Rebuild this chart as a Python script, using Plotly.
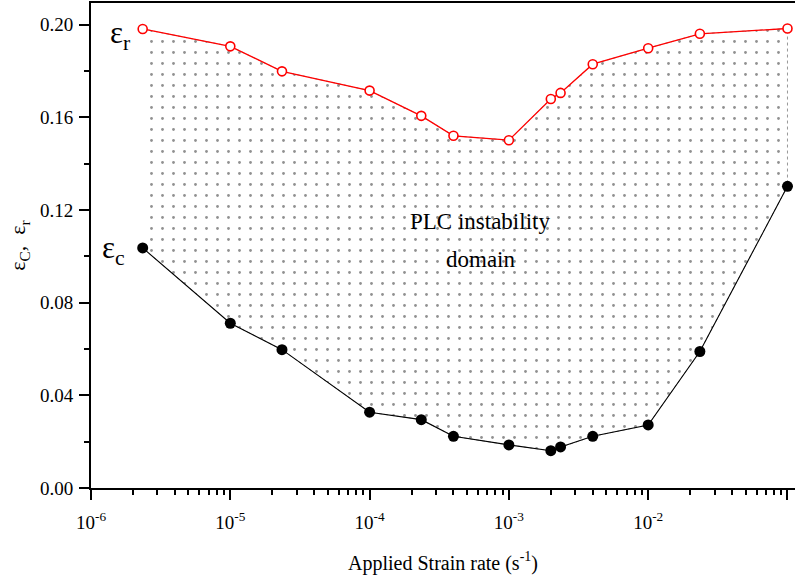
import plotly.graph_objects as go

# Data
strain_rate = [2.35e-6, 1e-5, 2.35e-5, 1e-4, 2.35e-4, 4e-4, 1e-3, 2e-3, 2.35e-3, 4e-3, 1e-2, 2.35e-2, 1e-1]
eps_r = [0.1981, 0.1906, 0.1798, 0.1715, 0.1606, 0.1520, 0.1501, 0.1679, 0.1705, 0.1829, 0.1898, 0.1960, 0.1983]
eps_c = [0.1036, 0.0711, 0.0597, 0.0327, 0.0295, 0.0223, 0.0186, 0.0161, 0.0177, 0.0223, 0.0272, 0.0589, 0.1302]

x_tick_vals = [1e-6, 1e-5, 1e-4, 1e-3, 1e-2, 1e-1]
x_tick_text = ["10<sup>-6</sup>", "10<sup>-5</sup>", "10<sup>-4</sup>",
               "10<sup>-3</sup>", "10<sup>-2</sup>", "10<sup>-1</sup>"]
x_minor_vals = [k * d for d in [1e-6, 1e-5, 1e-4, 1e-3, 1e-2] for k in range(2, 10)]

FONT = "Liberation Serif"

fig = go.Figure()

# PLC instability domain (dotted region between the two curves)
fig.add_trace(go.Scatter(
    x=strain_rate + strain_rate[::-1],
    y=eps_r + eps_c[::-1],
    fill="toself",
    mode="lines",
    line=dict(color="#999999", width=1, dash="dot"),
    fillcolor="rgba(255,255,255,0)",
    fillpattern=dict(shape=".", size=11, solidity=0.05, fgcolor="#222222", bgcolor="rgba(255,255,255,0)"),
    hoverinfo="skip",
    showlegend=False,
))

fig.add_trace(go.Scatter(
    x=strain_rate, y=eps_r, mode="lines+markers",
    line=dict(color="#ff0000", width=1.3),
    marker=dict(symbol="circle", size=9, color="white", line=dict(color="#ff0000", width=1.6)),
    showlegend=False, name="εr", cliponaxis=False,
))

fig.add_trace(go.Scatter(
    x=strain_rate, y=eps_c, mode="lines+markers",
    line=dict(color="black", width=1.1),
    marker=dict(symbol="circle", size=11, color="black"),
    showlegend=False, name="εc", cliponaxis=False,
))

annotations = [
    dict(x=-5.785, y=0.1955, xref="x", yref="y", text="ε<sub>r</sub>", showarrow=False,
         font=dict(family=FONT, size=31, color="black"), xanchor="center", yanchor="middle"),
    dict(x=-5.842, y=0.1025, xref="x", yref="y", text="ε<sub>c</sub>", showarrow=False,
         font=dict(family=FONT, size=31, color="black"), xanchor="center", yanchor="middle"),
    dict(x=-3.207, y=0.1148, xref="x", yref="y", text="PLC instability", showarrow=False,
         font=dict(family=FONT, size=23, color="black"), xanchor="center", yanchor="middle"),
    dict(x=-3.207, y=0.0984, xref="x", yref="y", text="domain", showarrow=False,
         font=dict(family=FONT, size=23, color="black"), xanchor="center", yanchor="middle"),
]

fig.update_layout(
    width=795, height=579,
    margin=dict(l=91, r=0, t=3, b=91),
    paper_bgcolor="white", plot_bgcolor="white",
    font=dict(family=FONT, size=19, color="black"),
    annotations=annotations,
    xaxis=dict(
        type="log", range=[-6, -0.946], automargin=False,
        tickvals=x_tick_vals, ticktext=x_tick_text,
        ticks="outside", ticklen=10, tickwidth=2, tickcolor="black",
        ticklabelstandoff=6,
        minor=dict(tickvals=x_minor_vals, ticks="outside", ticklen=5, tickwidth=1.5, tickcolor="black"),
        showline=True, linecolor="black", linewidth=2, mirror=True,
        showgrid=False, zeroline=False,
        tickfont=dict(family=FONT, size=19),
        title=dict(text="Applied Strain rate (s<sup>-1</sup>)", font=dict(family=FONT, size=20), standoff=24),
    ),
    yaxis=dict(
        range=[0, 0.2093], tick0=0, dtick=0.04, tickformat=".2f", automargin=False,
        ticks="outside", ticklen=10, tickwidth=2, tickcolor="black",
        ticklabelstandoff=2,
        minor=dict(dtick=0.02, ticks="outside", ticklen=5, tickwidth=1.5, tickcolor="black"),
        showline=True, linecolor="black", linewidth=2, mirror=False,
        showgrid=False, zeroline=False,
        tickfont=dict(family=FONT, size=19),
        title=dict(text="ε<sub>C</sub>,  ε<sub>r</sub>", font=dict(family=FONT, size=22), standoff=8),
    ),
)

fig.write_html("out.html", config={"displayModeBar": False},
               post_script="document.body.style.margin='0';document.body.style.overflow='hidden';")
